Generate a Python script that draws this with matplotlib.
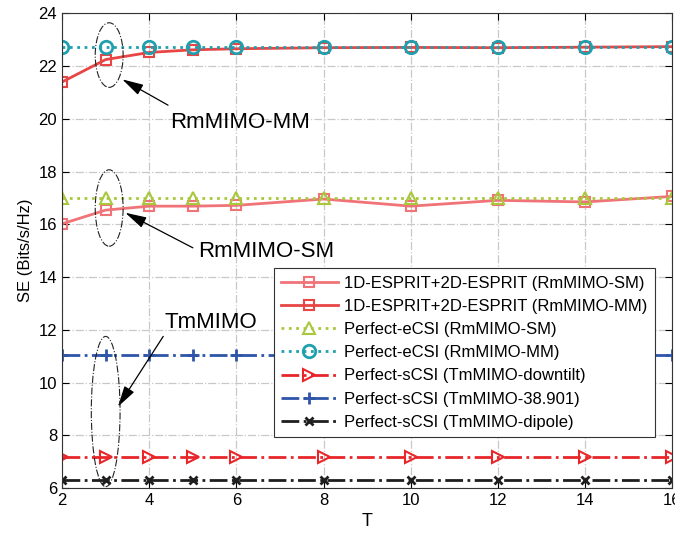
import numpy as np
import matplotlib
matplotlib.use("Agg")
import matplotlib.pyplot as plt
from matplotlib.patches import Ellipse

plt.rcParams['font.family'] = ['Liberation Sans', 'DejaVu Sans']

T = [2, 3, 4, 5, 6, 8, 10, 12, 14, 16]

esprit_sm = [16.02, 16.54, 16.69, 16.69, 16.72, 16.96, 16.69, 16.91, 16.85, 17.06]
esprit_mm = [21.4, 22.25, 22.52, 22.62, 22.66, 22.7, 22.71, 22.7, 22.72, 22.74]
ecsi_sm = [17.0] * 10
ecsi_mm = [22.72] * 10
scsi_downtilt = [7.16] * 10
scsi_38901 = [11.04] * 10
scsi_dipole = [6.31] * 10

labels = [
    '1D-ESPRIT+2D-ESPRIT (RmMIMO-SM)',
    '1D-ESPRIT+2D-ESPRIT (RmMIMO-MM)',
    'Perfect-eCSI (RmMIMO-SM)',
    'Perfect-eCSI (RmMIMO-MM)',
    'Perfect-sCSI (TmMIMO-downtilt)',
    'Perfect-sCSI (TmMIMO-38.901)',
    'Perfect-sCSI (TmMIMO-dipole)',
]

fig = plt.figure(figsize=(6.75, 5.48), dpi=100)
ax = fig.add_axes([0.092, 0.1095, 0.904, 0.866])

lw = 2
ax.plot(T, esprit_sm, '-', color='#f07378', lw=lw, marker='s', ms=7,
        mfc='none', mew=1.5, label=labels[0])
ax.plot(T, esprit_mm, '-', color='#e84545', lw=lw, marker='s', ms=7,
        mfc='none', mew=1.5, label=labels[1])
ax.plot(T, ecsi_sm, ':', color='#a9c83c', lw=lw, marker='^', ms=9,
        mfc='none', mew=1.5, label=labels[2])
ax.plot(T, ecsi_mm, ':', color='#1fa0ae', lw=lw, marker='o', ms=9,
        mfc='none', mew=2, label=labels[3])
ax.plot(T, scsi_downtilt, '-.', color='#e8262a', lw=lw, marker='>', ms=9,
        mfc='none', mew=1.5, label=labels[4])
ax.plot(T, scsi_38901, '-.', color='#2f55a8', lw=lw, marker='+', ms=9,
        mew=2, label=labels[5])
ax.plot(T, scsi_dipole, '-.', color='#1e1e1e', lw=lw, marker='x', ms=6,
        mew=2, label=labels[6])

ax.set_xlim(2, 16)
ax.set_ylim(6, 24)
ax.set_xticks(np.arange(2, 17, 2))
ax.set_yticks(np.arange(6, 25, 2))
ax.grid(True, linestyle='-.', color='#c8c8c8', lw=0.9)
ax.tick_params(direction='in', top=True, right=True, labelsize=12, length=5)
ax.set_xlabel('T', fontsize=13)
ax.set_ylabel('SE (Bits/s/Hz)', fontsize=12)
for s in ax.spines.values():
    s.set_color('#333333')

# grouping ellipses and callouts
for (xc, yc, w, h) in [(3.08, 22.42, 0.64, 2.45), (3.08, 16.62, 0.64, 2.9),
                       (3.0, 8.9, 0.66, 5.7)]:
    ax.add_patch(Ellipse((xc, yc), w, h, fill=False, ls='-.', lw=0.8,
                         color='#222222', zorder=5))

arrow = dict(arrowstyle='-|>,head_length=1.3,head_width=0.35', color='black',
             lw=0.9, shrinkA=0, shrinkB=0)
ax.annotate('', xy=(3.38, 21.5), xytext=(4.43, 20.52), arrowprops=arrow)
ax.text(4.48, 19.87, 'RmMIMO-MM', fontsize=16, ha='left', va='center')
ax.annotate('', xy=(3.45, 16.44), xytext=(5.0, 15.11), arrowprops=arrow)
ax.text(5.12, 14.97, 'RmMIMO-SM', fontsize=16, ha='left', va='center')
ax.annotate('', xy=(3.28, 9.08), xytext=(4.32, 11.75), arrowprops=arrow)
ax.text(4.35, 12.27, 'TmMIMO', fontsize=16, ha='left', va='center')

leg = ax.legend(loc='upper right', bbox_to_anchor=(0.972, 0.463), fontsize=12,
                fancybox=False, framealpha=1, edgecolor='#333333',
                handlelength=3.4, borderpad=0.45, labelspacing=0.49,
                handletextpad=0.4, borderaxespad=0)
leg.get_frame().set_linewidth(0.8)

fig.savefig('out.png', dpi=100)
